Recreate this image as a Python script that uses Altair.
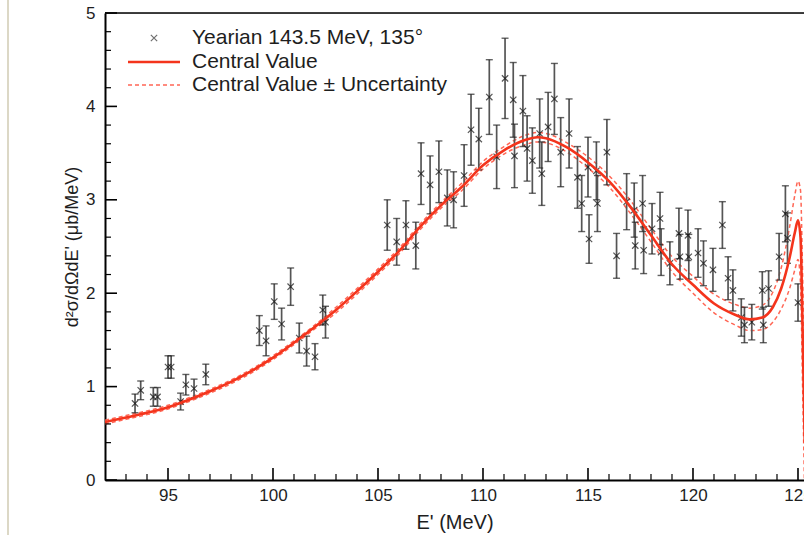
import altair as alt
import pandas as pd

# ---- measured spectrum: Yearian 143.5 MeV, 135 deg ----
e_prime = [93.43, 93.70, 94.30, 94.50, 95.00, 95.15, 95.60, 95.85, 96.24, 96.80,
           99.35, 99.67, 100.06, 100.41, 100.84, 101.25, 101.60, 102.00, 102.37, 102.50,
           105.44, 105.89, 106.33, 106.80, 107.05, 107.48, 107.90, 108.30, 108.60, 109.10,
           109.43, 109.80, 110.30, 110.65, 111.05, 111.44, 111.50, 111.90, 112.10, 112.35,
           112.70, 112.80, 113.10, 113.40, 113.70, 114.10, 114.50, 114.70, 115.00, 115.05,
           115.40, 115.45, 115.90, 116.36, 116.84, 117.20, 117.25, 117.60, 117.65, 118.05,
           118.43, 118.48, 118.90, 119.33, 119.38, 119.76, 119.80, 120.24, 120.50, 120.95,
           121.40, 121.67, 121.90, 122.30, 122.45, 122.80, 123.30, 123.35, 123.60, 124.10,
           124.40, 124.50, 125.00]
xsec = [0.82, 0.96, 0.89, 0.89, 1.21, 1.21, 0.84, 1.02, 0.98, 1.13,
        1.60, 1.49, 1.91, 1.67, 2.07, 1.52, 1.38, 1.32, 1.82, 1.69,
        2.73, 2.55, 2.73, 2.51, 3.28, 3.16, 3.30, 3.02, 3.00, 3.26,
        3.75, 3.65, 4.10, 3.46, 4.30, 4.07, 3.47, 3.95, 3.55, 3.42,
        3.71, 3.28, 3.78, 4.08, 3.51, 3.71, 3.24, 2.96, 3.35, 2.58,
        3.31, 2.96, 3.51, 2.40, 2.98, 2.89, 2.51, 2.96, 2.46, 2.69,
        2.80, 2.44, 2.32, 2.64, 2.39, 2.62, 2.39, 2.43, 2.32, 2.25,
        2.73, 2.16, 2.03, 1.74, 1.66, 1.69, 2.03, 1.66, 2.05, 2.39,
        2.85, 2.59, 1.90]
xsec_err = [0.10, 0.10, 0.10, 0.10, 0.12, 0.12, 0.09, 0.11, 0.10, 0.11,
            0.16, 0.16, 0.19, 0.17, 0.20, 0.16, 0.16, 0.14, 0.16, 0.17,
            0.27, 0.25, 0.26, 0.25, 0.33, 0.31, 0.33, 0.30, 0.30, 0.33,
            0.38, 0.33, 0.40, 0.34, 0.43, 0.40, 0.34, 0.38, 0.35, 0.35,
            0.37, 0.34, 0.37, 0.38, 0.37, 0.37, 0.33, 0.30, 0.32, 0.26,
            0.31, 0.30, 0.35, 0.24, 0.30, 0.29, 0.25, 0.30, 0.25, 0.27,
            0.28, 0.25, 0.23, 0.27, 0.24, 0.27, 0.24, 0.26, 0.24, 0.23,
            0.25, 0.23, 0.22, 0.20, 0.19, 0.19, 0.20, 0.19, 0.19, 0.25,
            0.30, 0.27, 0.20]

# ---- model prediction: central value and its uncertainty ----
curve_e = [92, 93, 94, 95, 96, 97, 98, 99, 100, 101, 102, 103, 104, 105, 106,
           107, 108, 109, 110, 111, 112, 112.6, 113, 114, 115, 116, 117, 118,
           119, 120, 121, 122, 122.7, 123.3, 123.8, 124.2, 124.6, 124.85, 125.0,
           125.12, 125.22, 125.32]
curve_val = [0.62, 0.67, 0.72, 0.78, 0.86, 0.95, 1.05, 1.17, 1.31, 1.47, 1.64,
             1.82, 2.02, 2.23, 2.45, 2.71, 2.94, 3.14, 3.37, 3.53, 3.64, 3.67,
             3.66, 3.56, 3.40, 3.20, 2.93, 2.62, 2.31, 2.09, 1.89, 1.77, 1.72,
             1.74, 1.85, 2.05, 2.38, 2.65, 2.78, 2.60, 1.60, 0.40]
curve_unc = [0.02, 0.02, 0.02, 0.02, 0.02, 0.02, 0.02, 0.02, 0.02, 0.02, 0.02,
             0.03, 0.03, 0.03, 0.03, 0.03, 0.03, 0.04, 0.04, 0.04, 0.05, 0.05,
             0.05, 0.05, 0.06, 0.06, 0.07, 0.07, 0.08, 0.09, 0.10, 0.11, 0.12,
             0.13, 0.16, 0.22, 0.33, 0.40, 0.42, 0.50, 0.60, 0.60]

legend_labels = ["Yearian 143.5 MeV, 135°", "Central Value",
                 "Central Value \u00b1 Uncertainty"]

major_x = [95, 100, 105, 110, 115, 120, 125]
minor_x = [v for v in range(93, 126) if v % 5 != 0]
major_y = [0, 1, 2, 3, 4, 5]
minor_y = [round(0.2 * i, 1) for i in range(26) if i % 5 != 0]

pts = pd.DataFrame({"E": e_prime, "xs": xsec, "err": xsec_err})
pts["lo"] = pts["xs"] - pts["err"]
pts["hi"] = pts["xs"] + pts["err"]

cur = pd.DataFrame({"E": curve_e, "val": curve_val, "unc": curve_unc})
cur["up"] = cur["val"] + cur["unc"]
cur["dn"] = cur["val"] - cur["unc"]

W, H = 699, 467
FONT = "Liberation Sans"
INK = "#1e1e1e"
RED = "#f4341c"
RED_DASH = "#ff6655"

xsc = alt.Scale(domain=[92, 125.286], nice=False, zero=False)
ysc = alt.Scale(domain=[0, 5], nice=False)

# the shared axes (explicit settings here override the other layers' defaults)
ax_x = alt.Axis(values=major_x, format="d", ticks=False, grid=False, domain=True,
                domainColor="black", domainWidth=2,
                labelFont=FONT, labelFontSize=17, labelColor=INK,
                labelPadding=7, labelFlush=False, labelOverlap=False,
                title="E' (MeV)", titleFont=FONT, titleFontSize=20,
                titleFontWeight="normal", titleColor=INK,
                titleY=42, titleBaseline="middle")
ax_y = alt.Axis(values=major_y, format="d", ticks=False, grid=False, domain=True,
                domainColor="black", domainWidth=2,
                labelFont=FONT, labelFontSize=17, labelColor=INK,
                labelPadding=10, labelFlush=False, labelOverlap=False,
                title="d²σ/dΩdE' (μb/MeV)", titleFont=FONT,
                titleFontSize=18, titleFontWeight="normal",
                titleColor=INK, titleX=-33, titleBaseline="middle")

X = lambda f: alt.X(f, scale=xsc)
Y = lambda f: alt.Y(f, scale=ysc)

# inward tick marks along the bottom and left edges
def x_ticks(vals, length, width):
    return alt.Chart(pd.DataFrame({"v": vals})).mark_rule(
        color="black", strokeWidth=width
    ).encode(x=X("v:Q"), y=alt.value(H), y2=alt.value(H - length))

def y_ticks(vals, length, width):
    return alt.Chart(pd.DataFrame({"v": vals})).mark_rule(
        color="black", strokeWidth=width
    ).encode(y=Y("v:Q"), x=alt.value(0), x2=alt.value(length))

one = pd.DataFrame({"k": [0]})
top_frame = alt.Chart(one).mark_rule(color="black", strokeWidth=1.5).encode(
    x=alt.value(0), x2=alt.value(W), y=alt.value(0))

band = alt.Chart(cur).transform_fold(["up", "dn"], as_=["edge", "v"]).mark_line(
    color=RED_DASH, strokeWidth=1.5, strokeDash=[4, 3], interpolate="monotone",
    clip=True
).encode(
    x=alt.X("E:Q", scale=xsc, axis=ax_x),
    y=alt.Y("v:Q", scale=ysc, axis=ax_y),
    detail="edge:N",
)

central = alt.Chart(cur).mark_line(
    color=RED, strokeWidth=2.6, interpolate="monotone", clip=True
).encode(x=X("E:Q"), y=Y("val:Q"))

bars = alt.Chart(pts).mark_rule(color="#555555", strokeWidth=1.7, clip=True).encode(
    x=X("E:Q"), y=Y("lo:Q"), y2="hi:Q")

caps = alt.Chart(pts).transform_fold(["lo", "hi"], as_=["end", "v"]).mark_tick(
    orient="horizontal", size=7, thickness=1.4, color="#222222", clip=True
).encode(x=X("E:Q"), y=Y("v:Q"))

CROSS = "M-1,-1L1,1M-1,1L1,-1"
marks = alt.Chart(pts).mark_point(
    shape=CROSS, filled=False, size=40, strokeWidth=1.2, color="#111111", clip=True
).encode(x=X("E:Q"), y=Y("xs:Q"))

# legend block
def legend_text(label, ypos):
    return alt.Chart(pd.DataFrame({"t": [label]})).mark_text(
        align="left", baseline="middle", font=FONT, fontSize=21, color=INK
    ).encode(text="t:N", x=alt.value(87), y=alt.value(ypos))

leg_mark = alt.Chart(one).mark_point(
    shape=CROSS, filled=False, size=40, strokeWidth=1.2, color="#333333"
).encode(x=alt.value(49), y=alt.value(25))
leg_line = alt.Chart(one).mark_rule(color=RED, strokeWidth=2.6).encode(
    x=alt.value(23), x2=alt.value(75), y=alt.value(49))
leg_dash = alt.Chart(one).mark_rule(
    color=RED_DASH, strokeWidth=1.5, strokeDash=[4, 3]
).encode(x=alt.value(23), x2=alt.value(75), y=alt.value(72))

page_edge = alt.Chart(one).mark_rule(color="#dcd8c6", strokeWidth=2).encode(
    x=alt.value(-97), y=alt.value(-13), y2=alt.value(522))

chart = alt.layer(
    band, page_edge, top_frame,
    x_ticks(minor_x, 6, 1.2), x_ticks(major_x, 12, 1.6),
    y_ticks(minor_y, 6, 1.2), y_ticks(major_y, 12, 1.6),
    bars, caps, marks, central,
    leg_mark, leg_line, leg_dash,
    legend_text(legend_labels[0], 25),
    legend_text(legend_labels[1], 49),
    legend_text(legend_labels[2], 72),
).properties(
    width=W, height=H,
    padding={"left": 105, "top": 13, "right": 0, "bottom": 55},
    autosize="none",
).configure_view(stroke=None).configure(background="white")

chart.save("out.html", embed_options={"renderer": "svg", "actions": False})
